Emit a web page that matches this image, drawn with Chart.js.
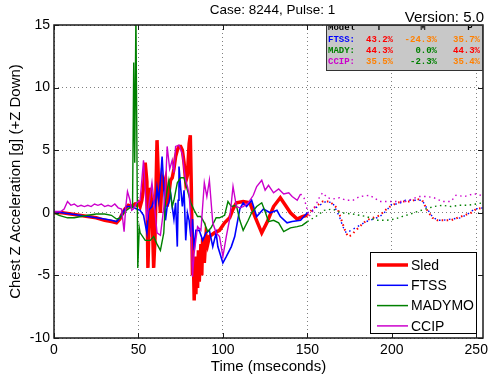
<!DOCTYPE html>
<html>
<head>
<meta charset="utf-8">
<script src="https://cdn.jsdelivr.net/npm/chart.js@4.4.0/dist/chart.umd.min.js"></script>
<style>
html,body{margin:0;padding:0;background:#fff}
canvas{display:block}
</style>
</head>
<body>
<canvas id="chart" width="489" height="383"></canvas>
<script>
// tick values
let xTicks = [0,50,100,150,200,250]
let yTicks = [-10,-5,0,5,10,15]

// Sled (red)
let sledT = [0,5,10,15,20,25,30,34,37,39, 40,42,44,46,48,49,50,51,52,53, 54,55,55.6,56.3,57,58,59,59.8,61,62,
63,64,65,66,67,68,69,70,71,72, 73,74,75,76,77,78,79,80,80.7,81.3, 82,82.5,83,83.5,84,84.5,85,85.5,86,87,
87.5,88,89,90,91,92,95,98,101,104, 106,108,112,116,119,123,126,130,134,137, 140,144,147,150,153,156,159,163,166,168,
170,172,174,176,178,181,185,189,193,196, 199,203,207,211,215,218,221,224,227,231, 235,239,243,247,250,254]
let sledV = [0,0,-0.1,-0.2,-0.3,-0.4,-0.6,-0.7,-0.8,-0.5, -0.2,0.3,0.6,0.5,0.7,0.6,0.8,0.5,1.0,2.0, 4.0,2.5,-4.4,-1.0,2.0,0.5,-4.4,-2.0,5.8,2.0,
0.0,2.7,2.2,2.7,0.5,1.5,2.6,2.8,3.5,4.5, 5.0,5.3,5.3,5.0,4.0,2.5,3.0,5.5,6.2,2.0, -5,-3.5,-7,-4,-6.5,-3.5,-6,-3,-5.5,-2.5,
-5,-2,-4,-1.8,-2.5,-1.9,-1.6,-1.4,-0.8,-0.4, 0.3,0.8,0.9,0.8,-0.3,-1.6,-0.8,0.5,1.2,0.6, 0.0,-0.5,-0.3,-0.2,0.3,0.6,0.9,0.9,0.6,0.3,
-0.5,-1.3,-1.9,-1.8,-1.5,-1.1,-0.6,-0.4,-0.2,0.2, 0.5,0.8,0.9,0.9,1.1,1.0,0.2,-0.4,-0.6,-0.6, -0.6,-0.4,-0.2,0.0,0.3,0.4]

// FTSS (blue)
let ftssT = [0,5,10,15,20,25,30,34,37,39, 41,43,46,49,51,53,55,56,58,59, 60,61,62,63,64,65,66,67,68,69,
70,71,72,73,73.5,74,75,76,77,78, 79,80,81,82,83,84,86,88,90,92, 94,96,97,100,102,105,107,110,112,114,
117,120,124,128,132,134,138,141,146,150, 153,156,161,165,169,171,173,176,181,185, 189,193,197,200,204,208,213,218,221,224,
227,230,235,241,245,249,254]
let ftssV = [0.1,0,-0.1,-0.2,-0.3,-0.4,-0.5,-0.6,-0.7,-0.4, 0.1,0.5,0.5,0.3,0.2,-0.2,-1.6,0.2,0.5,1.0, 0.5,2.0,1.0,2.5,4.5,2.0,-0.6,0.5,0.8,1.6,
0.5,-0.5,0.8,-2.7,1.0,3.7,2.0,0.5,1.8,-2.2, 0.0,-0.6,-1.9,-0.5,-3.0,-1.4,-1.4,-2.2,-1.6,-1.4, -2.7,-1.6,-2.7,-4.0,-3.5,-2.7,-1.9,0.3,0.8,0.5,
1.0,-0.3,0.3,0.0,0.2,-0.3,-0.8,-0.7,-0.6,0.0, 0.2,0.5,0.9,0.8,-0.3,-1.1,-1.6,-1.4,-1.0,-0.7, -0.5,-0.3,0.2,0.7,0.7,1.0,1.0,1.0,0.3,-0.3,
-0.6,-0.6,-0.5,-0.4,-0.1,0.3,0.4]

// MADYMO (green)
let madyT = [0,3,8,12,16,20,25,30,34,37, 39,41,43,45,46.5,47.2,47.8,48.5,49.6,50.5, 51,54,57,59,61,63,65,66,68,70,
71,73,75,77,79,81,83,85,87,89, 91,93,96,98,101,103,105,108,110,112, 115,117,120,123,125,127,130,133,136,140,
144,147,150,155,160,165,170,177,185,191, 197,202,206,211,215,220,225,230,235,240, 245,250,254]
let madyV = [0,-0.2,-0.4,-0.4,-0.3,-0.2,-0.1,-0.1,-0.2,-0.5, -0.4,-0.1,0.2,0.4,0.4,12,4,16,-4.4,-1.2, -1.6,-2.2,-2.2,-1.9,-2.5,-3.0,-1.6,1.0,2.6,0.5,
1.0,2.4,2.8,2.8,1.8,0.8,0.2,-0.3,-0.3,-0.8, -1.5,-1.2,-0.4,-0.4,-0.2,0.9,0.5,0.6,-0.6,-1.4, -0.6,0.0,0.5,0.8,0.1,-0.7,-0.6,-0.8,-1.5,-1.2,
-1.1,-1.0,-0.7,-0.3,0.2,0.3,0.0,-0.1,-0.3,-0.6, -0.6,-0.5,-0.3,-0.1,0.1,0.3,0.5,0.6,0.5,0.6, 0.6,0.7,0.8]

// CCIP (magenta)
let ccipT = [0,4,6,8,10,12,14,16,18,20, 22,24,26,28,30,32,34,36,38,40, 41.5,42.5,43.5,45,46,47,49,51,53,55,
56,58,59.5,61,63,65,66,67,68.5,70, 71,72,74,76,77,78,79,80,81,82, 83,85,87,89,90.5,92,94,96,98,100,
102,104,106,108,110,112,115,118,120,123, 125,127,130,133,136,139,141,144,146,148, 151,154,157,159,162,165,169,173,177,181,
187,193,199,204,208,212,216,221,225,230, 235,238,243,248,251,254]
let ccipV = [0.1,0.1,0.3,0.9,0.6,0.7,0.5,0.6,0.5,0.6, 0.5,0.7,0.6,0.7,0.5,0.6,0.5,0.7,0.4,0.3, -1.5,0.5,1.7,1.0,0.2,0.3,0.8,1.0,4.2,-0.6,
0.5,2.4,0.5,-1.6,-1.8,0.4,2.0,5.3,3.5,4.2, 3.2,5.3,5.4,4.7,3.5,2.6,2.1,1.5,-0.5,-5.1, -3.2,-1.1,-1.4,2.4,1.3,2.6,-0.8,-1.6,-1.9,-3.5,
-1.9,-0.5,2.1,0.5,0.4,0.5,0.8,1.4,2.1,2.6, 1.8,2.2,1.6,1.9,1.5,1.6,1.3,1.0,1.5,1.2, -0.3,0.3,1.2,1.6,1.2,1.1,1.2,1.0,1.0,1.3,
1.4,0.9,0.9,0.9,0.9,1.1,1.3,1.3,1.2,0.9, 0.9,1.4,1.3,1.5,1.5,1.3]

// error table
let tableModels = ["FTSS:","MADY:","CCIP:"]
let tableT = ["43.2%","44.3%","35.5%"]
let tableM = ["-24.3%","0.0%","-2.3%"]
let tableP = ["35.7%","44.3%","35.4%"]

let RED = "#ff0000", BLUE = "#0000ff", GREEN = "#008000", MAG = "#cc00cc", ORANGE = "#ff8000"

function pts(t, v){
  return t.map((x, i) => ({x: x, y: v[i]}))
}

// solid until the cut time, dotted afterwards
function dotAfter(cut, solidW, dotW){
  return {
    borderDash: ctx => ctx.p0.parsed.x >= cut ? [1.5, 3.5] : undefined,
    borderWidth: ctx => ctx.p0.parsed.x >= cut ? dotW : solidW
  }
}

function series(label, t, v, color, w, cut, dotW, order){
  return {
    label: label,
    data: pts(t, v),
    borderColor: color,
    borderWidth: w,
    pointRadius: 0,
    tension: 0,
    fill: false,
    order: order,
    segment: dotAfter(cut, w, dotW)
  }
}

let legendItems = [
  {label: "Sled", color: RED, w: 3.5},
  {label: "FTSS", color: BLUE, w: 1.5},
  {label: "MADYMO", color: GREEN, w: 1.5},
  {label: "CCIP", color: MAG, w: 1.5}
]

let overlay = {
  id: "overlay",
  afterDraw(chart){
    let ctx = chart.ctx
    let a = chart.chartArea
    let xs = chart.scales.x, ys = chart.scales.y
    ctx.save()

    // axes box and inner ticks
    ctx.strokeStyle = "#1a1a1a"
    ctx.lineWidth = 1.5
    ctx.strokeRect(a.left, a.top, a.right - a.left, a.bottom - a.top)
    ctx.lineWidth = 1
    ctx.beginPath()
    xTicks.forEach(v => {
      let px = Math.round(xs.getPixelForValue(v)) + 0.5
      ctx.moveTo(px, a.bottom); ctx.lineTo(px, a.bottom - 5)
      ctx.moveTo(px, a.top); ctx.lineTo(px, a.top + 5)
    })
    yTicks.forEach(v => {
      let py = Math.round(ys.getPixelForValue(v)) + 0.5
      ctx.moveTo(a.left, py); ctx.lineTo(a.left + 5, py)
      ctx.moveTo(a.right, py); ctx.lineTo(a.right - 5, py)
    })
    ctx.stroke()

    // titles
    ctx.fillStyle = "#000"
    ctx.font = "13.5px 'Liberation Sans', Arial, sans-serif"
    ctx.textAlign = "center"
    ctx.textBaseline = "middle"
    ctx.fillText("Case: 8244, Pulse: 1", (a.left + a.right) / 2 + 4, 10)
    ctx.font = "15px 'Liberation Sans', Arial, sans-serif"
    ctx.textAlign = "right"
    ctx.fillText("Version: 5.0", 484, 18)

    // table box
    let tl = 326, tt = a.top, tr = a.right, tb = 71
    ctx.fillStyle = "#c8c8c8"
    ctx.fillRect(tl, tt, tr - tl, tb - tt)
    ctx.strokeStyle = "#333"
    ctx.lineWidth = 1
    ctx.strokeRect(tl + 0.5, tt + 0.5, tr - tl - 1, tb - tt - 1)
    ctx.save()
    ctx.beginPath()
    ctx.rect(tl, tt + 1, tr - tl, tb - tt - 1)
    ctx.clip()
    ctx.font = "bold 9px 'Liberation Mono', 'Courier New', monospace"
    ctx.textBaseline = "alphabetic"
    ctx.fillStyle = "#000"
    ctx.textAlign = "left"
    ctx.fillText("Model", 328, 30)
    ctx.textAlign = "center"
    ctx.fillText("T", 379, 30)
    ctx.fillText("M", 423, 30)
    ctx.fillText("P", 470, 30)
    let nameColors = [BLUE, GREEN, MAG]
    let tColors = [RED, RED, ORANGE]
    let mColors = [ORANGE, GREEN, GREEN]
    let pColors = [ORANGE, RED, ORANGE]
    tableModels.forEach((m, i) => {
      let by = 42 + i * 11
      ctx.textAlign = "left"
      ctx.fillStyle = nameColors[i]
      ctx.fillText(m, 328, by)
      ctx.textAlign = "right"
      ctx.fillStyle = tColors[i]
      ctx.fillText(tableT[i], 393, by)
      ctx.fillStyle = mColors[i]
      ctx.fillText(tableM[i], 437, by)
      ctx.fillStyle = pColors[i]
      ctx.fillText(tableP[i], 480, by)
    })
    ctx.restore()

    // legend box
    let lr = a.right - 6, lb = a.bottom - 4, ll = 370, lt = 252
    ctx.fillStyle = "#fff"
    ctx.fillRect(ll, lt, lr - ll, lb - lt)
    ctx.strokeStyle = "#000"
    ctx.lineWidth = 1
    ctx.strokeRect(ll + 0.5, lt + 0.5, lr - ll - 1, lb - lt - 1)
    ctx.font = "14px 'Liberation Sans', Arial, sans-serif"
    ctx.textAlign = "left"
    ctx.textBaseline = "middle"
    legendItems.forEach((it, i) => {
      let cy = lt + 13 + i * 20.3
      ctx.strokeStyle = it.color
      ctx.lineWidth = it.w
      ctx.beginPath()
      ctx.moveTo(ll + 7, cy); ctx.lineTo(ll + 38, cy)
      ctx.stroke()
      ctx.fillStyle = "#000"
      ctx.fillText(it.label, ll + 41, cy + 1)
    })
    ctx.restore()
  }
}

Chart.defaults.font.family = "'Liberation Sans', Arial, sans-serif"
Chart.defaults.font.size = 14
Chart.defaults.color = "#000"

new Chart(document.getElementById("chart"), {
  type: "line",
  data: {
    datasets: [
      series("Sled", sledT, sledV, RED, 3.5, 150, 2, 4),
      series("FTSS", ftssT, ftssV, BLUE, 1.6, 150, 1.4, 3),
      series("MADYMO", madyT, madyV, GREEN, 1.4, 150, 1.4, 2),
      series("CCIP", ccipT, ccipV, MAG, 1.4, 145, 1.4, 1)
    ]
  },
  options: {
    responsive: false,
    animation: false,
    layout: {padding: {top: 25, right: 6, bottom: 0, left: 0}},
    plugins: {
      legend: {display: false},
      tooltip: {enabled: false}
    },
    scales: {
      x: {
        type: "linear",
        min: 0,
        max: 254,
        afterBuildTicks: s => { s.ticks = xTicks.map(v => ({value: v})) },
        afterFit: s => { s.height = 45; s.paddingLeft = 0; s.paddingRight = 0 },
        ticks: {padding: 4, autoSkip: false, maxRotation: 0},
        grid: {color: "#808080", lineWidth: 1, drawTicks: false},
        border: {display: false, dash: [1, 3]},
        title: {display: true, text: "Time (mseconds)", font: {size: 15}, padding: {top: 0, bottom: 7}}
      },
      y: {
        min: -10,
        max: 15,
        afterBuildTicks: s => { s.ticks = yTicks.map(v => ({value: v})) },
        afterFit: s => { s.width = 54; s.paddingTop = 0; s.paddingBottom = 0 },
        ticks: {padding: 4},
        grid: {color: "#808080", lineWidth: 1, drawTicks: false},
        border: {display: false, dash: [1, 3]},
        title: {display: true, text: "Chest Z Acceleration [g] (+Z Down)", font: {size: 15}, padding: {top: 7, bottom: 0}}
      }
    }
  },
  plugins: [overlay]
})
</script>
</body>
</html>
